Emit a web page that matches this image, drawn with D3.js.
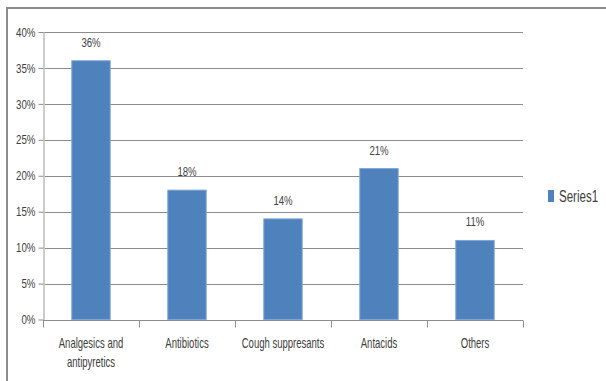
<!DOCTYPE html>
<html><head><meta charset="utf-8">
<script src="https://cdn.jsdelivr.net/npm/d3@7"></script>
<style>
html,body{margin:0;padding:0;background:#fff;}
svg{display:block;}
text{font-family:"Liberation Sans",Arial,sans-serif;fill:#404040;}
</style></head>
<body>
<svg id="c" width="606" height="381"></svg>
<script>
const categories = [["Analgesics and","antipyretics"],["Antibiotics"],["Cough suppresants"],["Antacids"],["Others"]];
const values = [36, 18, 14, 21, 11];
const yTicks = [0,5,10,15,20,25,30,35,40];
const seriesName = "Series1";

(function(){
const svg = d3.select("#c");
const pLeft = 43, pRight = 523, pTop = 32, pBottom = 319.5;

// outer frame (top and left only visible)
svg.append("line").attr("x1",6).attr("x2",606).attr("y1",8).attr("y2",8).attr("stroke","#8c8c8c").attr("stroke-width",2);
svg.append("line").attr("x1",7).attr("x2",7).attr("y1",7).attr("y2",381).attr("stroke","#8c8c8c").attr("stroke-width",2);

const x = d3.scaleBand().domain(d3.range(categories.length)).range([pLeft,pRight]).paddingInner(0.6).paddingOuter(0.3);
const xb = d3.scaleBand().domain(d3.range(categories.length)).range([pLeft,pRight]);
const y = d3.scaleLinear().domain([0,40]).range([pBottom,pTop]);

// gridlines
svg.append("g").selectAll("line").data(yTicks.filter(t=>t>0)).join("line")
  .attr("x1",pLeft).attr("x2",pRight).attr("y1",d=>Math.round(y(d))+0.5).attr("y2",d=>Math.round(y(d))+0.5)
  .attr("stroke","#8c8c8c").attr("stroke-width",1);

// y axis
const yAxis = svg.append("g").attr("transform",`translate(${pLeft+0.5},0)`)
  .call(d3.axisLeft(y).tickValues(yTicks).tickFormat(d=>d+"%").tickSize(5).tickSizeOuter(0));
yAxis.select(".domain").attr("stroke","#cccccc").attr("stroke-width",2);
yAxis.selectAll(".tick line").attr("stroke","#8c8c8c");
yAxis.selectAll(".tick text").attr("font-size",13).attr("x",0).attr("fill","#404040")
  .attr("font-family",'"Liberation Sans",Arial,sans-serif')
  .attr("transform",`translate(-8,0) scale(0.75,1)`);

// bars
svg.append("g").selectAll("rect").data(values).join("rect")
  .attr("x",(d,i)=>x(i)).attr("width",x.bandwidth())
  .attr("y",d=>y(d)).attr("height",d=>pBottom-y(d))
  .attr("fill","#4f81bd").attr("stroke","#7fa6d6").attr("stroke-width",1);

// x axis
const xAxis = svg.append("g").attr("transform",`translate(0,${Math.round(pBottom)+0.5})`);
xAxis.append("line").attr("x1",pLeft).attr("x2",pRight).attr("stroke","#8c8c8c");
xAxis.selectAll("line.t").data(d3.range(categories.length+1)).join("line").attr("class","t")
  .attr("x1",i=>Math.round(pLeft+i*xb.step())+0.5).attr("x2",i=>Math.round(pLeft+i*xb.step())+0.5)
  .attr("y1",0).attr("y2",7).attr("stroke","#8c8c8c");

// category labels
svg.append("g").selectAll("text").data(categories).join("text")
  .attr("font-size",15).attr("text-anchor","middle")
  .attr("transform",(d,i)=>`translate(${xb(i)+xb.bandwidth()/2},348) scale(0.635,1)`)
  .each(function(d){
    d3.select(this).selectAll("tspan").data(d).join("tspan")
      .attr("x",0).attr("dy",(t,j)=>j===0?0:19.5).text(t=>t);
  });

// value labels
svg.append("g").selectAll("text").data(values).join("text")
  .attr("font-size",13).attr("text-anchor","middle")
  .attr("transform",(d,i)=>`translate(${x(i)+x.bandwidth()/2},${y(d)-14}) scale(0.74,1)`)
  .text(d=>d+"%");

// legend
svg.append("rect").attr("x",548).attr("y",190).attr("width",6).attr("height",12).attr("fill","#4f81bd");
svg.append("text").attr("font-size",17).attr("transform",`translate(559,202) scale(0.68,1)`).text(seriesName);
})();
</script>
</body></html>
